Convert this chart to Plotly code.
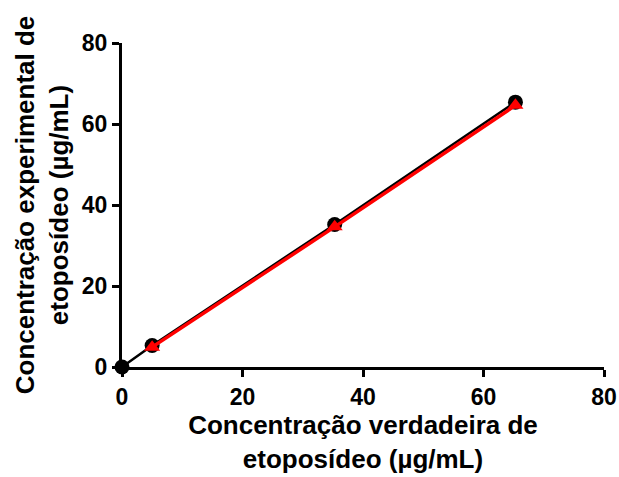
import plotly.graph_objects as go

x_black = [0, 5.0, 35.3, 65.3]
y_black = [0, 5.3, 35.2, 65.4]
x_red = [5.0, 35.3, 65.3]
y_red = [4.9, 34.6, 64.6]

x_ticks = [0, 20, 40, 60, 80]
y_ticks = [0, 20, 40, 60, 80]

font = "Liberation Sans, Arial, sans-serif"

fig = go.Figure()
fig.add_trace(go.Scatter(x=x_black, y=y_black, mode="lines+markers",
                         line=dict(color="black", width=2.5),
                         marker=dict(symbol="circle", size=15, color="black"),
                         cliponaxis=False, showlegend=False))
fig.add_trace(go.Scatter(x=x_red, y=y_red, mode="lines+markers",
                         line=dict(color="#ff0000", width=3.5),
                         marker=dict(symbol="triangle-up", size=14, color="#ff0000"),
                         cliponaxis=False, showlegend=False))

axis_common = dict(showgrid=False, zeroline=False, showline=True, linecolor="black",
                   linewidth=3, ticks="outside", ticklen=7, tickwidth=3, tickcolor="black",
                   tickfont=dict(family=font, size=23, color="black", weight="bold"),
                   range=[0, 80], fixedrange=True, automargin=False)

fig.update_layout(
    width=619, height=477,
    margin=dict(l=122, r=15, t=43, b=110),
    paper_bgcolor="white", plot_bgcolor="white",
    xaxis=dict(**axis_common, tickvals=x_ticks,
               title=dict(text="<b>Concentração verdadeira de<br>etoposídeo (µg/mL)</b>",
                          font=dict(family=font, size=26, color="black"), standoff=8)),
    yaxis=dict(**axis_common, tickvals=y_ticks,
               title=dict(text="<b>Concentração experimental de<br>etoposídeo (µg/mL)</b>",
                          font=dict(family=font, size=26, color="black"), standoff=6)),
)
fig.write_html("out.html")
